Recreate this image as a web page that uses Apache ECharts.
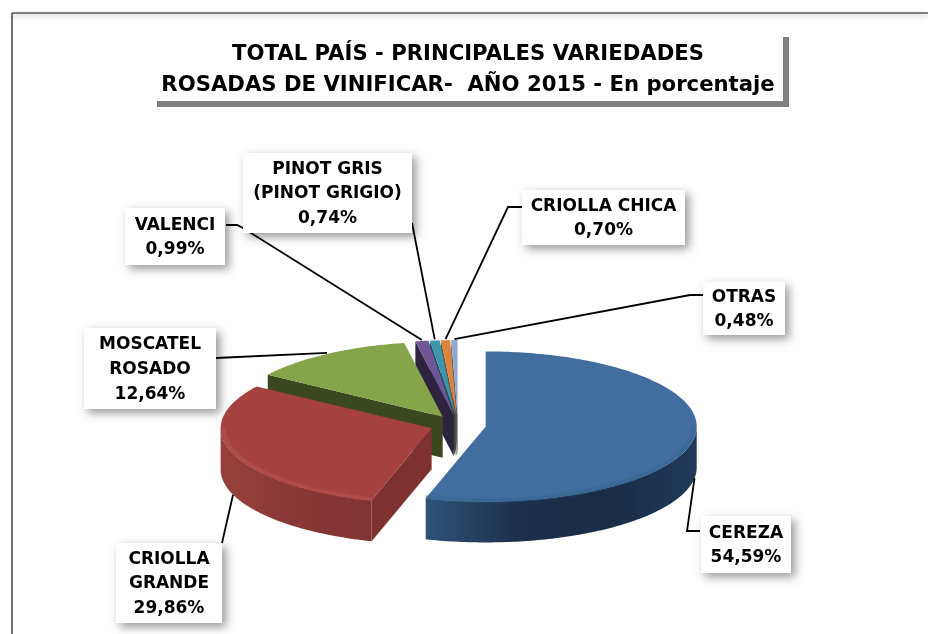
<!DOCTYPE html>
<html><head><meta charset="utf-8">
<style>html,body{margin:0;padding:0;background:#fff}#c{width:928px;height:634px}</style>
<script src="https://cdn.jsdelivr.net/npm/echarts@6/dist/echarts.min.js"></script>
</head><body><div id="c"></div>
<script>
const varieties = [['CEREZA'],['CRIOLLA','GRANDE'],['MOSCATEL','ROSADO'],['VALENCI'],['PINOT GRIS','(PINOT GRIGIO)'],['CRIOLLA CHICA'],['OTRAS']];
const shares = [54.59, 29.86, 12.64, 0.99, 0.74, 0.70, 0.48];
const titleLines = ['TOTAL PAÍS - PRINCIPALES VARIEDADES', 'ROSADAS DE VINIFICAR-  AÑO 2015 - En porcentaje'];

// styling and layout, kept apart from the data
const topColors = ['#416e9f','#a5423f','#86a44a','#6f5595','#3b95ad','#db843d','#92a9cf'];
const faceColors = ['#1d3350','#7d3230','#3a471f','#2f2440','#1f4e5c','#7a4620','#4e5c75'];
const sideStops = [['#2f5378','#1c304c','#192c45','#1f3a59'],['#96403b','#8c3c38','#843633','#813533']];
const rimColors = ['#3c6896','#b04c48'];
const pie = {cx:458, cy:425, rx:211, ry:75, depth:41, explode:28};
const boxes = [
 {x:701,y:516,w:90,h:57,  lead:[[700,531],[687,531]]},
 {x:116,y:543,w:106,h:80, lead:[[222,543]]},
 {x:84,y:328,w:132,h:81,  lead:[[216,358]]},
 {x:125,y:208,w:100,h:57, lead:[[226,225],[237,225],[243,228]]},
 {x:243,y:153,w:169,h:80, lead:[[412,223]]},
 {x:522,y:190,w:163,h:55, lead:[[522,207],[508,207]]},
 {x:703,y:282,w:82,h:53,  lead:[[703,295],[690,295]]}
];
const paintOrder = [6,5,4,3,2,1,0];

const total = shares.reduce((a,b)=>a+b,0);
const toRad = d => d*Math.PI/180;
function angles(i){ let s=0; for(let k=0;k<i;k++) s+=shares[k]; return [s/total*360,(s+shares[i])/total*360]; }
function rim(c,a,k){ k=k||1; return [c[0]+Math.sin(toRad(a))*pie.rx*k, c[1]-Math.cos(toRad(a))*pie.ry*k]; }
function arc(c,a0,a1,k){ const pts=[]; const n=Math.max(2,Math.ceil(Math.abs(a1-a0)));
  for(let j=0;j<=n;j++) pts.push(rim(c,a0+(a1-a0)*j/n,k)); return pts; }
const down = p => [p[0],p[1]+pie.depth];

function renderItem(params, api){
  const i = params.dataIndex, [a0,a1] = angles(i), mid=(a0+a1)/2;
  const c = [pie.cx+Math.sin(toRad(mid))*pie.explode, pie.cy-Math.cos(toRad(mid))*pie.explode*pie.ry/pie.rx];
  const base = paintOrder.indexOf(i)*10+1, kids=[];
  const poly=(points,fill,z)=>kids.push({type:'polygon',shape:{points},z2:base+z,style:{fill,stroke:null}});
  if(a0>180 && a0<360){ const o=rim(c,a0); poly([o,c,down(c),down(o)],faceColors[i],0); }
  if(a1>0 && a1<180){ const o=rim(c,a1); poly([o,c,down(c),down(o)],faceColors[i],0); }
  const f0=Math.max(a0,90), f1=Math.min(a1,270);
  if(f1>f0){
    const t=arc(c,f0,f1), st=sideStops[i]||[faceColors[i],faceColors[i]];
    poly(t.concat(t.map(down).reverse()), new echarts.graphic.LinearGradient(0,0,1,0,
      st.map((col,k)=>({offset:k/(st.length-1),color:col}))),1);
  }
  poly([c].concat(arc(c,a0,a1)),topColors[i],2);
  if(f1>f0){
    kids.push({type:'polyline',shape:{points:arc(c,f0,f1,0.985)},z2:base+3,
      style:{fill:null,stroke:rimColors[i],lineWidth:3,shadowBlur:2,shadowColor:rimColors[i]}});
  }
  const b=boxes[i];
  const front=mid>90&&mid<270, anchor=rim(c,mid);
  const end=front?down(anchor):[anchor[0],anchor[1]-1];
  kids.push({type:'polyline',shape:{points:b.lead.concat([end])},z2:200,
    style:{fill:null,stroke:'#000',lineWidth:1.8}});
  kids.push({type:'rect',shape:{x:b.x,y:b.y,width:b.w,height:b.h},z2:300+i,
    style:{fill:'#fff',shadowBlur:9,shadowOffsetX:4,shadowOffsetY:4,shadowColor:'rgba(0,0,0,0.4)'}});
  const txt=varieties[i].concat([api.value(1).toFixed(2).replace('.',',')+'%']).join('\n');
  kids.push({type:'text',z2:320+i,style:{text:txt,x:b.x+b.w/2,y:b.y+b.h/2+1,align:'center',verticalAlign:'middle',
    fill:'#000',font:'bold 17px "DejaVu Sans"',lineHeight:24.7}});
  return {type:'group',children:kids};
}

const chart = echarts.init(document.getElementById('c'),null,{renderer:'canvas'});
chart.setOption({
  animation:false,
  backgroundColor:'#fff',
  title:{text:titleLines.join('\n'),left:463,top:34,textAlign:'center',
    textStyle:{fontFamily:'DejaVu Sans',fontWeight:'bold',fontSize:21.2,color:'#000',lineHeight:31}},
  graphic:[
    {type:'line',shape:{x1:12,y1:13,x2:928,y2:13},style:{stroke:'#5a5a5a',lineWidth:1.5,shadowBlur:5,shadowOffsetY:2,shadowColor:'rgba(0,0,0,0.35)'}},
    {type:'line',shape:{x1:12,y1:13,x2:12,y2:634},style:{stroke:'#404040',lineWidth:1.5}},
    {type:'rect',shape:{x:157,y:37,width:632,height:70},style:{fill:'#808080'}},
    {type:'rect',shape:{x:150,y:30,width:633,height:71},style:{fill:'#fff'}}
  ],
  series:[{type:'custom',coordinateSystem:'none',clip:false,silent:true,
    data:shares.map((v,i)=>[i,v]),renderItem}]
});
</script></body></html>
